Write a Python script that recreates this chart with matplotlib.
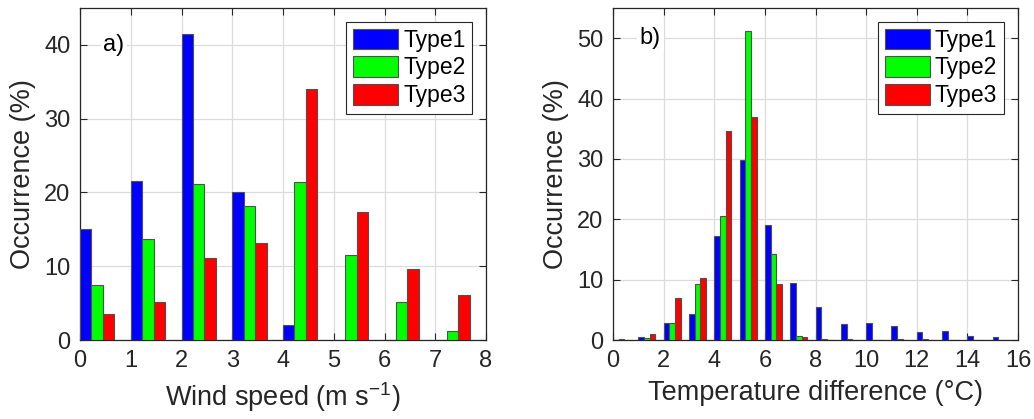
import matplotlib
matplotlib.use("Agg")
import matplotlib.pyplot as plt
import numpy as np

plt.rcParams["font.family"] = ["Liberation Sans", "DejaVu Sans"]
plt.rcParams["mathtext.default"] = "regular"

# panel a: wind speed histogram (% occurrence)
wind_bins = [0, 1, 2, 3, 4, 5, 6, 7]
wind_type1 = [15.0, 21.6, 41.5, 20.0, 2.1, 0.05, 0.0, 0.0]
wind_type2 = [7.5, 13.7, 21.1, 18.1, 21.4, 11.5, 5.2, 1.2]
wind_type3 = [3.5, 5.2, 11.1, 13.2, 34.0, 17.3, 9.6, 6.1]

# panel b: temperature difference histogram (% occurrence)
temp_bins = [0, 1, 2, 3, 4, 5, 6, 7, 8, 9, 10, 11, 12, 13, 14, 15]
temp_type1 = [0.0, 0.5, 2.8, 4.3, 17.2, 29.8, 19.0, 9.4, 5.4, 2.6, 2.8, 2.3, 1.3, 1.5, 0.6, 0.45]
temp_type2 = [0.15, 0.3, 2.8, 9.3, 20.5, 51.2, 14.3, 0.7, 0.15, 0.15, 0.05, 0.1, 0.1, 0.05, 0.0, 0.0]
temp_type3 = [0.0, 1.05, 7.0, 10.3, 34.6, 37.0, 9.3, 0.45, 0.0, 0.0, 0.0, 0.0, 0.0, 0.0, 0.0, 0.0]

labels = ["Type1", "Type2", "Type3"]
colors = ["#0000ff", "#00ff00", "#ff0000"]
AX_COLOR = "#262626"
BAR_W = 0.225


def draw_panel(ax, bins, series, xlim, ylim, xticks, yticks, xlabel, tag, tag_xy):
    x = np.asarray(bins, dtype=float)
    for k, (vals, lab, col) in enumerate(zip(series, labels, colors)):
        ax.bar(x + k * BAR_W, vals, width=BAR_W, align="edge", color=col,
               edgecolor="#505050", linewidth=0.8, label=lab, zorder=3)
    ax.set_xlim(*xlim)
    ax.set_ylim(*ylim)
    ax.set_xticks(xticks)
    ax.set_yticks(yticks)
    ax.grid(True, color="#dcdcdc", linewidth=0.9)
    ax.set_axisbelow(True)
    ax.tick_params(direction="in", top=True, right=True, length=5, width=0.8,
                   labelsize=17, colors=AX_COLOR, pad=7)
    for s in ax.spines.values():
        s.set_color(AX_COLOR)
        s.set_linewidth(0.9)
    ax.set_xlabel(xlabel, fontsize=19.5, color=AX_COLOR, labelpad=6)
    ax.set_ylabel("Occurrence (%)", fontsize=19.5, color=AX_COLOR, labelpad=6)
    ax.text(tag_xy[0], tag_xy[1], tag, fontsize=17, ha="center", va="center",
            bbox=dict(facecolor="white", edgecolor="none", pad=2), zorder=4)
    leg = ax.legend(loc="upper right", fontsize=16.5, fancybox=False, framealpha=1,
                    edgecolor=AX_COLOR, handlelength=2.0, handleheight=1.0,
                    handletextpad=0.2, labelspacing=0.2, borderpad=0.3,
                    borderaxespad=0.6)
    leg.get_frame().set_linewidth(0.8)
    leg.set_zorder(5)


fig = plt.figure(figsize=(10.34, 4.19), dpi=100)
ax1 = fig.add_axes([80 / 1034, 79 / 419, 406 / 1034, 332 / 419])
ax2 = fig.add_axes([613 / 1034, 79 / 419, 405 / 1034, 332 / 419])

draw_panel(ax1, wind_bins, [wind_type1, wind_type2, wind_type3], (0, 8), (0, 45),
           range(0, 9), range(0, 41, 10), "Wind speed (m s$^{-1}$)", "a)", (0.67, 40))
draw_panel(ax2, temp_bins, [temp_type1, temp_type2, temp_type3], (0, 16), (0, 55),
           range(0, 17, 2), range(0, 51, 10), "Temperature difference (°C)", "b)", (1.47, 50))

fig.savefig("out.png", dpi=100)
